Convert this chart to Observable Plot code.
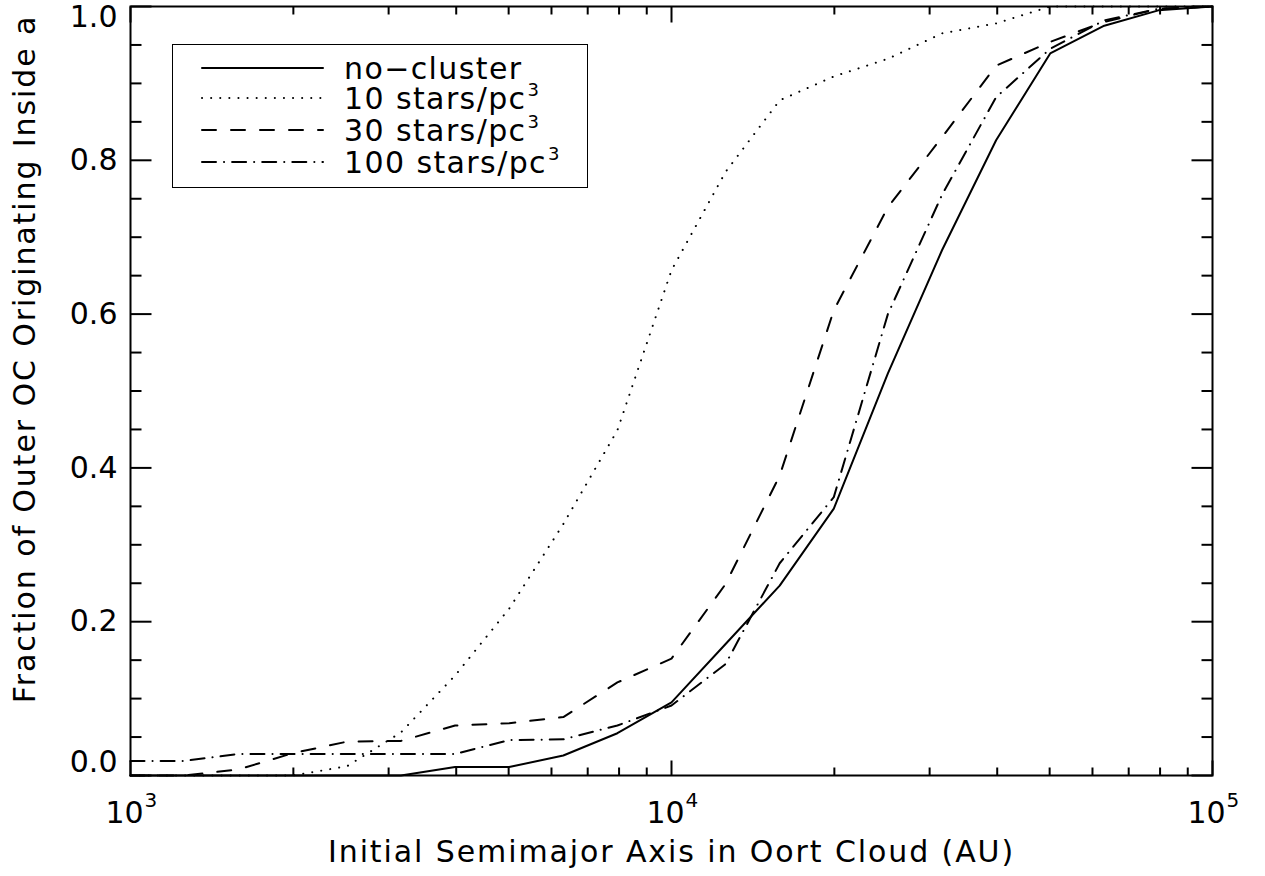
<!DOCTYPE html>
<html>
<head>
<meta charset="utf-8">
<script src="https://cdn.jsdelivr.net/npm/d3@7"></script>
<script src="https://cdn.jsdelivr.net/npm/@observablehq/plot@0.6"></script>
<style>
  body { margin: 0; background: #fff; }
  #wrap { position: relative; width: 1265px; height: 876px; background: #fff; }
  #legend { position: absolute; left: 172px; top: 44px; }
</style>
</head>
<body>
<div id="wrap"></div>
<script>
// ---- data ----
const semimajorAU = [1000, 1259, 1585, 1995, 2512, 3162, 3981, 5012, 6310, 7943,
  10000, 12589, 15849, 19953, 25119, 31623, 39811, 50119, 63096, 79433, 100000];
const seriesNames = ["no\u2212cluster", "10 stars/pc", "30 stars/pc", "100 stars/pc"];
const seriesSup = ["", "3", "3", "3"];
const noCluster = [0, 0, 0, 0, 0, 0, 0.011, 0.011, 0.026, 0.055,
  0.095, 0.171, 0.247, 0.347, 0.523, 0.683, 0.826, 0.939, 0.975, 0.995, 1.0];
const stars10 = [0, 0, 0, 0, 0.012, 0.056, 0.13, 0.217, 0.327, 0.449,
  0.657, 0.785, 0.878, 0.909, 0.932, 0.965, 0.978, 1.0, 1.0, 1.0, 1.0];
const stars30 = [0, 0, 0.008, 0.029, 0.044, 0.045, 0.065, 0.068, 0.076, 0.121,
  0.152, 0.249, 0.39, 0.605, 0.739, 0.83, 0.923, 0.954, 0.98, 0.997, 1.0];
const stars100 = [0.019, 0.019, 0.028, 0.028, 0.028, 0.028, 0.028, 0.046, 0.047, 0.065,
  0.091, 0.145, 0.276, 0.362, 0.60, 0.755, 0.882, 0.945, 0.982, 0.997, 1.0];

const xMajorTicks = [1e3, 1e4, 1e5];
const xExponents = ["3", "4", "5"];
const xMinorTicks = [2e3, 3e3, 4e3, 5e3, 6e3, 7e3, 8e3, 9e3, 2e4, 3e4, 4e4, 5e4, 6e4, 7e4, 8e4, 9e4];
const yMajorTicks = [0, 0.2, 0.4, 0.6, 0.8, 1.0];
const yMinorTicks = [0.05, 0.1, 0.15, 0.25, 0.3, 0.35, 0.45, 0.5, 0.55, 0.65, 0.7, 0.75, 0.85, 0.9, 0.95];
const xTitle = "Initial Semimajor Axis in Oort Cloud (AU)";
const yTitle = "Fraction of Outer OC Originating Inside a";

// ---- styles ----
const seriesValues = [noCluster, stars10, stars30, stars100];
const dashes = [null, "0.1,9", "14,15", "14,8,0.1,8"];
const FONT = "DejaVu Sans, Liberation Sans, sans-serif";

const rows = semimajorAU.flatMap((a, i) => seriesValues.map((v, s) => ({a, f: v[i], s})));

const tickShape = {draw(ctx, l) { ctx.moveTo(0, 0); ctx.lineTo(0, -l); }};
const tk = (data, anchor, rotate, length, ch) => Plot.vector(data, {
  [ch]: d => d, frameAnchor: anchor, anchor: "start", rotate, length,
  shape: tickShape, stroke: "black", strokeWidth: 2, strokeLinecap: "butt"
});
const yLab = (vals, dy) => Plot.axisY(vals, {
  anchor: "left", tickSize: 0, tickPadding: 13, tickFormat: d3.format(".1f"),
  fontSize: 30, label: null, dy
});

const chart = Plot.plot({
  width: 1265,
  height: 876,
  marginLeft: 130,
  marginRight: 53,
  marginTop: 6,
  marginBottom: 101,
  style: {fontFamily: FONT, fontSize: "30px", color: "black", background: "white"},
  x: {type: "log", domain: [1000, 100000], axis: null},
  y: {domain: [0, 1], axis: null},
  marks: [
    ...seriesValues.map((_, s) => Plot.line(rows.filter(d => d.s === s), {
      x: "a", y: "f", stroke: "black", strokeWidth: 2,
      strokeDasharray: dashes[s] ?? undefined
    })),
    Plot.frame({stroke: "black", strokeWidth: 2}),
    tk(xMajorTicks, "bottom", 0, 15, "x"),
    tk(xMinorTicks, "bottom", 0, 8, "x"),
    tk(xMajorTicks, "top", 180, 16, "x"),
    tk(xMinorTicks, "top", 180, 8, "x"),
    tk(yMajorTicks, "left", 90, 21, "y"),
    tk(yMinorTicks, "left", 90, 11, "y"),
    tk(yMajorTicks, "right", -90, 21, "y"),
    tk(yMinorTicks, "right", -90, 11, "y"),
    yLab(yMajorTicks.filter(v => v > 0 && v < 1), 0),
    yLab([0], -13),
    yLab([1], 11),
    Plot.text(xMajorTicks, {x: d => d, frameAnchor: "bottom", text: () => "10",
      dy: 38, dx: -6, fontSize: 30, lineAnchor: "middle"}),
    Plot.text(xMajorTicks, {x: d => d, frameAnchor: "bottom", text: (d, i) => xExponents[i],
      dy: 25, dx: 14, textAnchor: "start", fontSize: 20, lineAnchor: "middle"}),
    Plot.text([xTitle], {text: d => d, frameAnchor: "bottom", dy: 77, fontSize: 30,
      lineAnchor: "middle", textAnchor: "middle"}),
    Plot.text([yTitle], {text: d => d, frameAnchor: "left", rotate: -90, dx: -105, dy: -32,
      fontSize: 30, lineAnchor: "middle", textAnchor: "middle"})
  ]
});

// wider letter spacing for the titles, like the reference's stroke font
d3.select(chart).selectAll("text")
  .filter(function() { const t = this.textContent; return t === xTitle || t === yTitle; })
  .style("letter-spacing", "1.9px");

const wrap = document.getElementById("wrap");
wrap.appendChild(chart);

// ---- legend ----
const lw = 416, lh = 144;
const leg = d3.select(wrap).append("svg").attr("id", "legend")
  .attr("width", lw).attr("height", lh);
leg.append("rect").attr("x", 0.5).attr("y", 0.5).attr("width", lw - 1).attr("height", lh - 1)
  .attr("fill", "white").attr("stroke", "black").attr("stroke-width", 1);
const rowY = [24, 54, 86, 118];
seriesNames.forEach((name, s) => {
  const y = rowY[s];
  leg.append("line").attr("x1", 30).attr("x2", 151).attr("y1", y).attr("y2", y)
    .attr("stroke", "black").attr("stroke-width", 2).attr("stroke-linecap", "round")
    .attr("stroke-dasharray", dashes[s]);
  const t = leg.append("text").attr("x", 172).attr("y", y + 11)
    .attr("font-family", FONT).attr("font-size", 30).attr("fill", "black")
    .style("letter-spacing", "1.4px").text(name);
  if (seriesSup[s]) t.append("tspan").attr("font-size", 18).attr("dy", -13).attr("dx", 1).text(seriesSup[s]);
});
</script>
</body>
</html>
